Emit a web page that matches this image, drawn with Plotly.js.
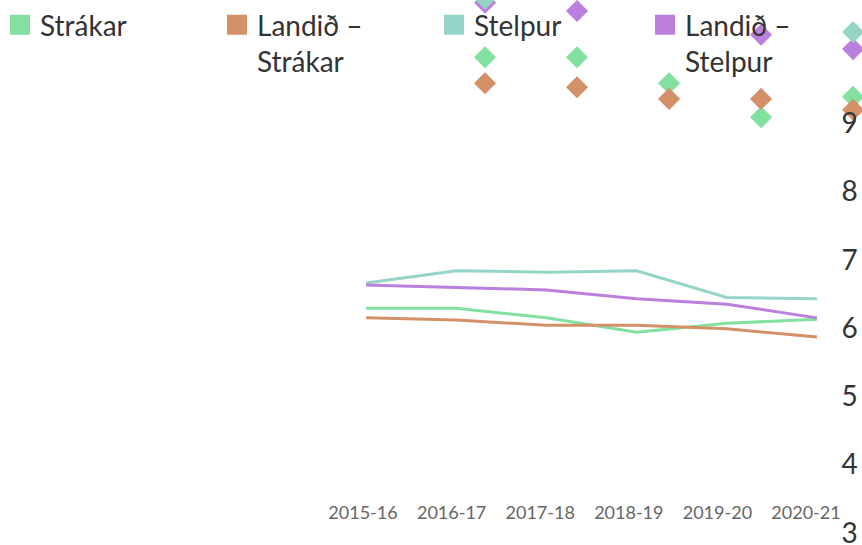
<!DOCTYPE html>
<html>
<head>
<meta charset="utf-8">
<script src="https://cdn.plot.ly/plotly-3.0.1.min.js"></script>
<style>html,body{margin:0;padding:0;background:#fff;}#chart{width:862px;height:545px;}</style>
</head>
<body>
<div id="chart"></div>
<script>
const categories = ['2015-16','2016-17','2017-18','2018-19','2019-20','2020-21'];
const seriesNames = ['Strákar','Landið –<br>Strákar','Stelpur','Landið –<br>Stelpur'];
const strakar      = [6.29, 6.29, 6.15, 5.94, 6.07, 6.13];
const landStrakar  = [6.15, 6.12, 6.04, 6.04, 5.99, 5.87];
const stelpur      = [6.66, 6.84, 6.82, 6.84, 6.45, 6.43];
const landStelpur  = [6.63, 6.59, 6.56, 6.43, 6.35, 6.15];

const diamondCats  = ['2016-17','2017-18','2018-19','2019-20','2020-21'];
const dStrakar     = [9.97, 9.97, 9.59, 9.09, 9.39];
const dLandStrakar = [9.59, 9.53, 9.36, 9.36, 9.20];
const dStelpur     = [10.83, null, null, null, 10.34];
const dLandStelpur = [10.77, 10.65, null, 10.30, 10.09];
const yTicks = [3, 4, 5, 6, 7, 8, 9];

const colors = ['#82e0a0', '#d49168', '#95d5c8', '#bb80dd'];
const lineData = [strakar, landStrakar, stelpur, landStelpur];
const diaData = [dStrakar, dLandStrakar, dStelpur, dLandStelpur];
const diaOrder = [0, 1, 3, 2];
const legendOf = ['legend', 'legend', 'legend', 'legend2'];
const FONT = 'Lato, "Open Sans", sans-serif';
const X0 = 321 / 862;

const traces = [];
lineData.forEach((ys, i) => {
  traces.push({x: categories, y: ys, xaxis: 'x', yaxis: 'y', mode: 'lines',
    line: {color: colors[i], width: 3}, showlegend: false, hoverinfo: 'skip'});
});
diaOrder.forEach(i => {
  traces.push({x: diamondCats, y: diaData[i], xaxis: 'x2', yaxis: 'y', mode: 'markers',
    marker: {symbol: 'diamond', size: 17, color: colors[i]}, showlegend: false, hoverinfo: 'skip'});
});
traces.push({x: categories, y: categories.map(() => null), xaxis: 'x3', yaxis: 'y', mode: 'markers',
  showlegend: false, hoverinfo: 'skip'});
seriesNames.forEach((n, i) => {
  traces.push({x: [null], y: [null], name: n, mode: 'markers', xaxis: 'x', yaxis: 'y',
    marker: {symbol: 'square', size: 16, color: colors[i], line: {color: colors[i], width: 4}},
    showlegend: true, legend: legendOf[i]});
});

const legendBase = {orientation: 'h', xanchor: 'left', y: 1, yanchor: 'top', valign: 'top',
  entrywidth: 172, entrywidthmode: 'pixels', bgcolor: 'rgba(0,0,0,0)',
  font: {family: FONT, size: 28, color: '#333'}, itemclick: false, traceorder: 'normal'};

const layout = {
  width: 862, height: 545,
  margin: {l: 0, r: 0, t: 0, b: 0, pad: 0},
  paper_bgcolor: '#fff', plot_bgcolor: 'rgba(0,0,0,0)',
  font: {family: FONT, color: '#333'},
  showlegend: true,
  legend: Object.assign({}, legendBase, {x: 0}),
  legend2: Object.assign({}, legendBase, {x: 645 / 862}),
  xaxis: {domain: [X0, 1], type: 'category', categoryarray: categories, range: [-0.5, 5.5],
    showticklabels: false, showgrid: false, zeroline: false, showline: false, ticks: ''},
  xaxis2: {type: 'category', categoryarray: categories, overlaying: 'x', range: [-0.783, 5.097],
    visible: false},
  xaxis3: {type: 'category', categoryarray: categories, overlaying: 'x', range: [-0.474, 5.632],
    anchor: 'free', position: 0.083, showgrid: false, zeroline: false, showline: false, ticks: '',
    tickfont: {family: FONT, size: 18, color: '#666'}},
  yaxis: {side: 'right', anchor: 'free', position: 0.975, range: [2.82, 10.81], tickvals: yTicks,
    ticklabeloverflow: 'allow',
    showgrid: false, zeroline: false, showline: false, ticks: '',
    tickfont: {family: FONT, size: 28, color: '#333'}}
};

Plotly.newPlot('chart', traces, layout, {displayModeBar: false, staticPlot: true});
</script>
</body>
</html>
